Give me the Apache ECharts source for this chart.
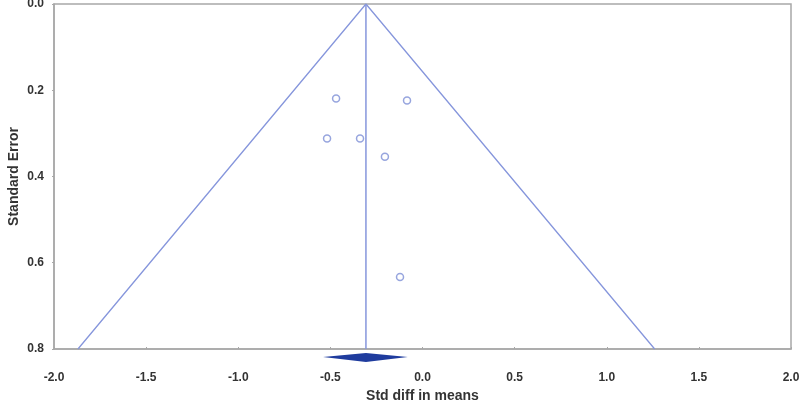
<!DOCTYPE html>
<html>
<head>
<meta charset="utf-8">
<script src="https://cdn.jsdelivr.net/npm/echarts@6/dist/echarts.min.js"></script>
<style>
  html, body { margin: 0; padding: 0; background: #fff; }
  #chart { width: 800px; height: 405px; }
</style>
</head>
<body>
<div id="chart"></div>
<script>
// studies: std diff in means vs standard error
const studyEffect = [-0.469, -0.084, -0.518, -0.339, -0.204, -0.122];
const studySE = [0.219, 0.224, 0.312, 0.312, 0.354, 0.633];

// pooled estimate and funnel edges
const pooledEffect = -0.307;
const pooledLow = -0.54;
const pooledHigh = -0.08;
const funnelEdge = [[-1.87, 0.8], [-0.307, 0], [1.26, 0.8]];

const xTicks = [-2.0, 2.0, 0.5];
const yTicks = [0.0, 0.8, 0.2];

const lineBlue = "#8696dc";

const chart = echarts.init(document.getElementById("chart"));

const points = studyEffect.map((x, i) => [x, studySE[i]]);

const option = {
  backgroundColor: "#fff",
  animation: false,
  grid: {
    left: 54,
    right: 9,
    top: 4,
    bottom: 56,
    outerBoundsMode: "none",
    containLabel: false,
    show: true,
    borderColor: "#a8a8a8",
    borderWidth: 1.5,
  },
  xAxis: {
    type: "value",
    min: xTicks[0],
    max: xTicks[1],
    interval: xTicks[2],
    name: "Std diff in means",
    nameLocation: "middle",
    nameGap: 40,
    nameMoveOverlap: false,
    nameTextStyle: {
      fontFamily: "Liberation Sans",
      fontWeight: "bold",
      fontSize: 14,
      color: "#333",
    },
    axisLine: { show: true, onZero: false, lineStyle: { color: "#a8a8a8", width: 1.5 } },
    axisTick: { show: true, inside: true, length: 2, lineStyle: { color: "#a8a8a8" } },
    splitLine: { show: false },
    axisLabel: {
      margin: 23,
      fontFamily: "Liberation Sans",
      fontWeight: "bold",
      fontSize: 12,
      color: "#333",
      formatter: (v) => v.toFixed(1),
    },
  },
  yAxis: {
    type: "value",
    inverse: true,
    min: yTicks[0],
    max: yTicks[1],
    interval: yTicks[2],
    name: "Standard Error",
    nameLocation: "middle",
    nameGap: 33,
    nameMoveOverlap: false,
    nameTextStyle: {
      fontFamily: "Liberation Sans",
      fontWeight: "bold",
      fontSize: 14,
      color: "#333",
    },
    axisLine: { show: true, onZero: false, lineStyle: { color: "#a8a8a8", width: 1.5 } },
    axisTick: { show: true, length: 2, lineStyle: { color: "#a8a8a8" } },
    splitLine: { show: false },
    axisLabel: {
      margin: 10,
      fontFamily: "Liberation Sans",
      fontWeight: "bold",
      fontSize: 12,
      color: "#333",
      formatter: (v) => v.toFixed(1),
    },
  },
  series: [
    {
      type: "line",
      data: funnelEdge,
      symbol: "none",
      lineStyle: { color: lineBlue, width: 1.3 },
    },
    {
      type: "line",
      data: [[pooledEffect, yTicks[0]], [pooledEffect, yTicks[1]]],
      symbol: "none",
      lineStyle: { color: lineBlue, width: 1.5 },
    },
    {
      type: "scatter",
      data: points,
      symbol: "circle",
      symbolSize: 7,
      itemStyle: { color: "#fff", borderColor: "#7d8fd6", borderWidth: 1.5 },
    },
    {
      // pooled diamond below the axis
      type: "custom",
      clip: false,
      data: [[pooledLow, pooledEffect, pooledHigh]],
      renderItem: (params, api) => {
        const lo = api.coord([api.value(0), 0.8]);
        const mid = api.coord([api.value(1), 0.8]);
        const hi = api.coord([api.value(2), 0.8]);
        const cy = lo[1] + 8;
        return {
          type: "polygon",
          shape: {
            points: [
              [lo[0], cy],
              [mid[0], cy - 4],
              [hi[0], cy],
              [mid[0], cy + 5],
            ],
          },
          style: { fill: "#1f3c9e" },
        };
      },
    },
  ],
};

chart.setOption(option);
</script>
</body>
</html>
